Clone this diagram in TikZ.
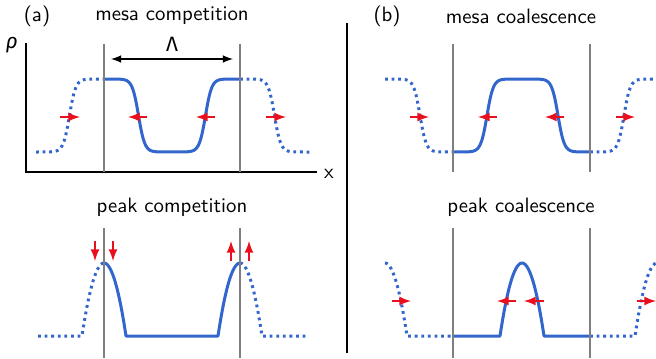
\documentclass[tikz,border=0pt]{standalone}
\usepackage{fontspec}
\newfontfamily\greekfont{Fira Sans}
\definecolor{rhoblue}{HTML}{3366CC}
\definecolor{pushred}{HTML}{E8101E}
\definecolor{wallgray}{HTML}{7F7F7F}
\tikzset{>=latex}
\tikzset{
  declare function={
    T(\x)=tanh(max(-6,min(6,0.16*\x)));
    mesaA(\x)=152-73*(T(\x-69.5)-T(\x-138.5)+T(\x-205.5)-T(\x-274.5))/2;
    mesaB(\x)=152-73*(1+(-T(\x-420)+T(\x-487)-T(\x-558)+T(\x-624))/2);
    cap(\x)=max(0,1-(\x/22)^2);
    peakA(\x)=336-73*(cap(\x-104)+cap(\x-240));
    peakB(\x)=336-73*(cap(\x-385)+cap(\x-522)+cap(\x-657));
  }
}

\begin{document}
\begin{tikzpicture}[x=0.5pt,y=-0.5pt,font=\sffamily\fontsize{10.4}{12}\selectfont,
    profile/.style={line width=1.5pt,draw=rhoblue,line join=round},
    ghost/.style={profile,dash pattern=on 1.4pt off 1.9pt},
    wall/.style={line width=0.75pt,draw=wallgray},
    push/.style={->,line width=1pt,draw=pushred}]
  \useasboundingbox (0,0) rectangle (656,358);
  % titles
  \node (labA) at (37,16) {(a)};
  \node (titleA) at (172,16) {mesa competition};
  \node (labB) at (387,16) {(b)};
  \node (titleB) at (521,16) {mesa coalescence};
  \node (titleC) at (172,207) {peak competition};
  \node (titleD) at (521,207) {peak coalescence};
  % axes of (a)
  \coordinate (origin) at (26,172);
  \coordinate (ytop) at (26,43);
  \coordinate (xend) at (317,172);
  \draw[line width=0.6pt] (ytop) -- (origin) -- (xend);
  \node (rho) at (12,45) {\greekfont\itshape ρ};
  \node (xlab) at (329,174) {x};
  % separator
  \coordinate (sepT) at (347,23);
  \coordinate (sepB) at (347,353);
  \draw[line width=1pt] (sepT) -- (sepB);
  % density profiles
  \draw[ghost] plot[domain=36:104,samples=69] (\x,{mesaA(\x)});
  \draw[profile] plot[domain=104:240,samples=137] (\x,{mesaA(\x)});
  \draw[ghost] plot[domain=240:310,samples=71] (\x,{mesaA(\x)});
  \draw[ghost] plot[domain=385:453,samples=69] (\x,{mesaB(\x)});
  \draw[profile] plot[domain=453:590,samples=138] (\x,{mesaB(\x)});
  \draw[ghost] plot[domain=590:656,samples=67] (\x,{mesaB(\x)});
  \draw[ghost] plot[domain=38:104,samples=67] (\x,{peakA(\x)});
  \draw[profile] plot[domain=104:240,samples=137] (\x,{peakA(\x)});
  \draw[ghost] plot[domain=240:307,samples=68] (\x,{peakA(\x)});
  \draw[ghost] plot[domain=385:453,samples=69] (\x,{peakB(\x)});
  \draw[profile] plot[domain=453:590,samples=138] (\x,{peakB(\x)});
  \draw[ghost] plot[domain=590:656,samples=67] (\x,{peakB(\x)});
  % walls of the periodic box
  \foreach \w in {104,240,453,590}{
    \coordinate (wt\w) at (\w,44);
    \coordinate (wb\w) at (\w,172);
    \coordinate (vt\w) at (\w,228);
    \coordinate (vb\w) at (\w,358);
    \draw[wall] (wt\w) -- (wb\w);
    \draw[wall] (vt\w) -- (vb\w);
  }
  % period
  \coordinate (lamL) at (111,59);
  \coordinate (lamR) at (233,59);
  \draw[<->,line width=0.75pt] (lamL) -- node[above] (lam) {\greekfont Λ} (lamR);
  % fluxes
  \foreach \s/\e [count=\i] in {60/80,147/128,215/196,266/286,410/429,497/478,564/545,616/635}{
    \coordinate (ps\i) at (\s,117);
    \coordinate (pe\i) at (\e,117);
    \draw[push] (ps\i) -- (pe\i);
  }
  \foreach \s/\e [count=\i] in {392/411,516/497,544/524,637/656}{
    \coordinate (qs\i) at (\s,301);
    \coordinate (qe\i) at (\e,301);
    \draw[push] (qs\i) -- (qe\i);
  }
  \foreach \u/\s/\e [count=\i] in {95/241/261,113/241/261,231/261/241,249/261/241}{
    \coordinate (rs\i) at (\u,\s);
    \coordinate (re\i) at (\u,\e);
    \draw[push] (rs\i) -- (re\i);
  }
\end{tikzpicture}
\end{document}
